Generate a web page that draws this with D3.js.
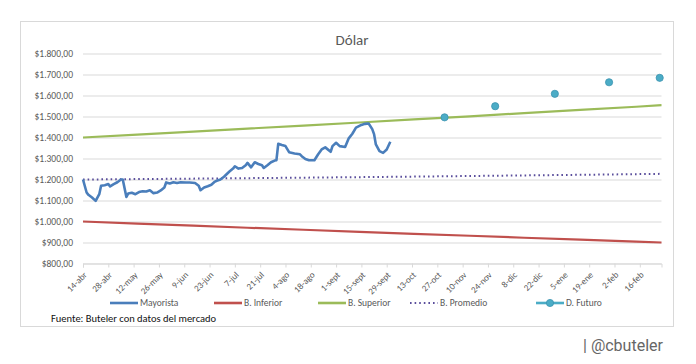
<!DOCTYPE html>
<html><head><meta charset="utf-8">
<script src="https://cdn.jsdelivr.net/npm/d3@7"></script>
<style>
body{margin:0;background:#fff;}
svg text{font-family: Carlito, Lato, "Liberation Sans", sans-serif;}
</style>
</head><body><svg id="c" width="696" height="364"></svg>
<script>
const mayoristaDates = ["2025-04-14","2025-04-16","2025-04-17","2025-04-19","2025-04-21","2025-04-23","2025-04-24","2025-04-26","2025-04-28","2025-04-29",
"2025-05-01","2025-05-03","2025-05-05","2025-05-06","2025-05-08","2025-05-09","2025-05-11","2025-05-13","2025-05-15","2025-05-17","2025-05-19","2025-05-21","2025-05-23","2025-05-25","2025-05-27","2025-05-29","2025-05-30",
"2025-06-01","2025-06-03","2025-06-05","2025-06-07","2025-06-10","2025-06-12","2025-06-15","2025-06-17","2025-06-18","2025-06-20","2025-06-22","2025-06-24","2025-06-26","2025-06-27","2025-06-29",
"2025-07-01","2025-07-03","2025-07-04","2025-07-06","2025-07-07","2025-07-09","2025-07-11","2025-07-13","2025-07-14","2025-07-16","2025-07-18","2025-07-20","2025-07-22","2025-07-23","2025-07-25","2025-07-27","2025-07-29","2025-07-30","2025-07-31",
"2025-08-02","2025-08-04","2025-08-06","2025-08-09","2025-08-12","2025-08-13","2025-08-15","2025-08-17","2025-08-20","2025-08-22","2025-08-24","2025-08-26","2025-08-29","2025-08-30",
"2025-09-01","2025-09-03","2025-09-06","2025-09-08","2025-09-10","2025-09-12","2025-09-15","2025-09-17","2025-09-19","2025-09-21","2025-09-22","2025-09-23","2025-09-25","2025-09-27","2025-09-29","2025-10-01"];
const mayoristaValues = [1200,1138,1127,1114,1098,1130,1170,1173,1178,1167,
1178,1187,1200,1200,1117,1133,1137,1130,1140,1144,1143,1149,1135,1138,1148,1162,1186,
1181,1187,1183,1187,1186,1186,1183,1170,1149,1162,1168,1175,1190,1194,1200,
1213,1230,1238,1252,1263,1252,1255,1268,1279,1258,1282,1274,1268,1255,1268,1282,1290,1292,1370,
1364,1359,1330,1324,1320,1311,1298,1292,1292,1319,1343,1353,1332,1359,
1375,1359,1355,1396,1418,1447,1460,1465,1467,1440,1416,1367,1335,1327,1343,1380];

const bandDates = ["2025-04-14","2025-05-14","2025-06-14","2025-07-14","2025-08-14","2025-09-14","2025-10-14","2025-11-14","2025-12-14","2026-01-14","2026-02-14","2026-02-28"];
const bandSuperior = [1400,1414,1428.1,1442.4,1456.8,1471.4,1486.1,1501,1516,1531.1,1546.5,1553.7];
const bandInferior = [1000,990,980.1,970.3,960.6,951,941.5,932.1,922.7,913.5,904.4,900];
const bandPromedio = [1200,1202,1204.1,1206.4,1208.7,1211.2,1213.8,1216.6,1219.4,1222.3,1225.5,1226.9];

const futuroDates = ["2025-10-31","2025-11-28","2025-12-31","2026-01-30","2026-02-27"];
const futuroValues = [1496,1549,1608,1663,1684];

const xTickDates = ["2025-04-14","2025-04-28","2025-05-12","2025-05-26","2025-06-09","2025-06-23","2025-07-07","2025-07-21","2025-08-04","2025-08-18","2025-09-01","2025-09-15","2025-09-29","2025-10-13","2025-10-27","2025-11-10","2025-11-24","2025-12-08","2025-12-22","2026-01-05","2026-01-19","2026-02-02","2026-02-16"];
const xTickLabels = ["14-abr","28-abr","12-may","26-may","9-jun","23-jun","7-jul","21-jul","4-ago","18-ago","1-sept","15-sept","29-sept","13-oct","27-oct","10-nov","24-nov","8-dic","22-dic","5-ene","19-ene","2-feb","16-feb"];
const yTicks = [800,900,1000,1100,1200,1300,1400,1500,1600,1700,1800];

const seriesNames = ["Mayorista","B. Inferior","B. Superior","B. Promedio","D. Futuro"];

const parse = d3.utcParse("%Y-%m-%d");
const svg = d3.select("#c");
const locale = d3.formatLocale({decimal:",", thousands:".", grouping:[3], currency:["$",""]});
const fmt = locale.format("$,.2f");

const C = {may:"#4a7ebb", inf:"#c0504d", sup:"#9bbb59", prom:"#5a4e9c", fut:"#4bacc6", grid:"#d9d9d9", txt:"#595959"};

// chart frame
svg.append("rect").attr("x",20.5).attr("y",21.5).attr("width",653).attr("height",305)
  .attr("fill","#fff").attr("stroke","#d9d9d9");

const x = d3.scaleUtc().domain([parse("2025-04-14"), parse("2026-02-28")]).range([83, 661.5]);
const y = d3.scaleLinear().domain([800,1800]).range([263.5, 53.5]);

// title
svg.append("text").attr("x",352).attr("y",45).attr("text-anchor","middle")
  .attr("font-size",15).attr("fill",C.txt).text("Dólar");

// grid + y labels
const yAxis = d3.axisLeft(y).tickValues(yTicks).tickSize(-(661.5-83)).tickFormat(fmt).tickPadding(10);
const gy = svg.append("g").attr("transform","translate(83,0)").call(yAxis);
gy.select(".domain").remove();
gy.selectAll(".tick line").attr("stroke",C.grid);
gy.selectAll(".tick text").attr("fill",C.txt).attr("font-size",9.5).style("font-family","Carlito, Lato, 'Liberation Sans', sans-serif");

// x axis
const xAxis = d3.axisBottom(x).tickValues(xTickDates.map(parse)).tickSize(4)
  .tickFormat((d,i)=>xTickLabels[i]);
const gx = svg.append("g").attr("transform","translate(0,263.5)").call(xAxis);
gx.select(".domain").attr("stroke",C.grid);
gx.selectAll(".tick line").attr("stroke",C.grid);
gx.selectAll(".tick text").attr("fill",C.txt).attr("font-size",9)
  .style("font-family","Carlito, Lato, 'Liberation Sans', sans-serif")
  .attr("text-anchor","end").attr("dy",null).attr("y",0)
  .attr("transform","translate(4,12) rotate(-45)");

const line = d3.line().x(d=>x(d[0])).y(d=>y(d[1]));
function pairs(ds, vs){ return ds.map((d,i)=>[parse(d), vs[i]]); }

svg.append("path").datum(pairs(bandInferior.length?bandDates:[],bandInferior)).attr("d",line)
  .attr("fill","none").attr("stroke",C.inf).attr("stroke-width",2.2);
svg.append("path").datum(pairs(bandDates,bandSuperior)).attr("d",line)
  .attr("fill","none").attr("stroke",C.sup).attr("stroke-width",2.2);
svg.append("path").datum(pairs(bandDates,bandPromedio)).attr("d",line)
  .attr("fill","none").attr("stroke",C.prom).attr("stroke-width",2)
  .attr("stroke-dasharray","1.6,3");
svg.append("path").datum(pairs(mayoristaDates,mayoristaValues)).attr("d",line)
  .attr("fill","none").attr("stroke",C.may).attr("stroke-width",2.6).attr("stroke-linejoin","round");

svg.selectAll("circle.fut").data(pairs(futuroDates,futuroValues)).join("circle")
  .attr("class","fut").attr("cx",d=>x(d[0])).attr("cy",d=>y(d[1])).attr("r",3.6)
  .attr("fill",C.fut).attr("stroke","#3b93b0").attr("stroke-width",0.8);

// legend
const legX = [110, 214, 318, 410, 536];
const leg = svg.append("g");
seriesNames.forEach((n,i)=>{
  const g = leg.append("g").attr("transform",`translate(${legX[i]},303)`);
  const col = [C.may,C.inf,C.sup,C.prom,C.fut][i];
  const ln = g.append("line").attr("x1",0).attr("x2",28).attr("y1",0).attr("y2",0)
    .attr("stroke",col).attr("stroke-width", i===3?2:2.6);
  if(i===3) ln.attr("stroke-dasharray","1.6,3");
  if(i===4) g.append("circle").attr("cx",14).attr("cy",0).attr("r",3.6).attr("fill",C.fut).attr("stroke","#3b93b0").attr("stroke-width",0.8);
  g.append("text").attr("x",30).attr("y",3.3).attr("font-size",9.5).attr("fill",C.txt).text(n);
});

svg.append("text").attr("x",51).attr("y",322).attr("font-size",10.5).attr("fill","#111")
  .text("Fuente: Buteler con datos del mercado");

svg.append("text").attr("x",583).attr("y",351).attr("font-size",16)
  .style("font-family","Roboto, 'Open Sans', sans-serif").attr("fill","#666").text("| @cbuteler");
</script>
</body></html>
